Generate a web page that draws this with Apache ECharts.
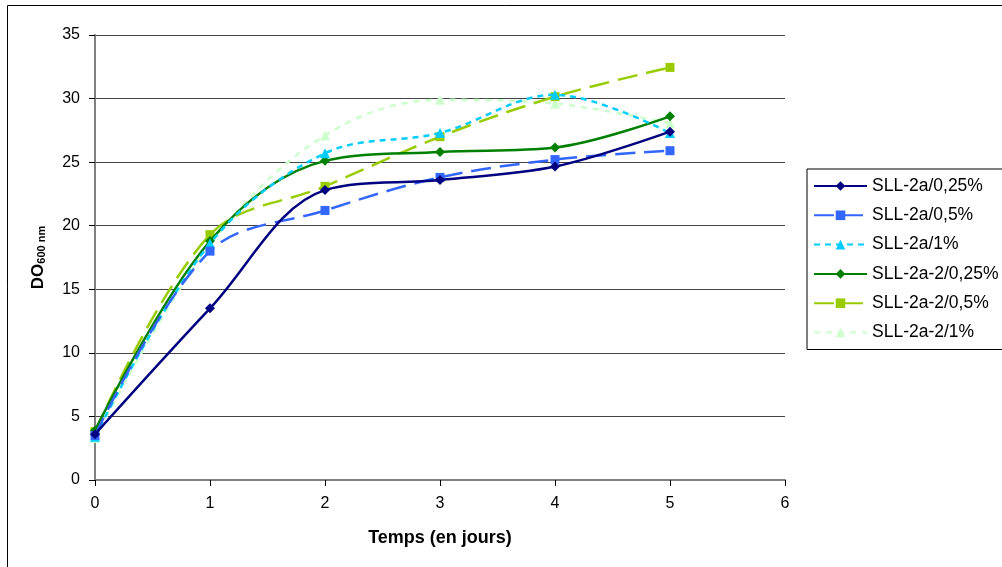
<!DOCTYPE html>
<html>
<head>
<meta charset="utf-8">
<script src="https://cdn.jsdelivr.net/npm/echarts@6/dist/echarts.min.js"></script>
<style>html,body{margin:0;padding:0;background:#fff}#c{width:1002px;height:567px}</style>
</head>
<body>
<div id="c"></div>
<script>
const days = [0, 1, 2, 3, 4, 5];
const xTicks = [0, 1, 2, 3, 4, 5, 6];
const yTicks = [0, 5, 10, 15, 20, 25, 30, 35];
const names = ['SLL-2a/0,25%', 'SLL-2a/0,5%', 'SLL-2a/1%', 'SLL-2a-2/0,25%', 'SLL-2a-2/0,5%', 'SLL-2a-2/1%'];
const s1 = [3.6, 13.5, 22.8, 23.6, 24.65, 27.4];
const s2 = [3.5, 18.0, 21.2, 23.8, 25.2, 25.9];
const s3 = [3.4, 18.6, 25.7, 27.3, 30.3, 27.3];
const s4 = [3.9, 18.8, 25.1, 25.8, 26.15, 28.6];
const s5 = [3.8, 19.3, 23.1, 27.0, 30.15, 32.45];
const s6 = [3.3, 18.5, 27.1, 29.9, 29.6, 28.05];
const values = [s1, s2, s3, s4, s5, s6];

const styles = [
  {color: '#000080', type: 'solid', symbol: 'diamond', size: 10},
  {color: '#3366FF', type: [20, 9], symbol: 'rect', size: 9},
  {color: '#00CCFF', type: [6, 5], symbol: 'triangle', size: 10},
  {color: '#008000', type: 'solid', symbol: 'diamond', size: 10},
  {color: '#99CC00', type: [20, 9], symbol: 'rect', size: 9},
  {color: '#CCFFCC', type: [6, 6], symbol: 'triangle', size: 10}
];

const FONT = 'Liberation Sans, Arial, sans-serif';

const series = names.map((n, i) => ({
  name: n,
  type: 'line',
  smooth: 0.35,
  data: days.map((d, j) => [d, values[i][j]]),
  symbol: styles[i].symbol,
  symbolSize: styles[i].size,
  showAllSymbol: true,
  itemStyle: {color: styles[i].color},
  lineStyle: {color: styles[i].color, width: 2.5, type: styles[i].type},
  z: 10 - i
}));

const chart = echarts.init(document.getElementById('c'), null, {renderer: 'canvas'});
chart.setOption({
  animation: false,
  backgroundColor: '#fff',
  textStyle: {fontFamily: FONT},
  graphic: [
    {type: 'line', shape: {x1: 7.5, y1: 5.5, x2: 1010, y2: 5.5}, style: {stroke: '#000', lineWidth: 1}},
    {type: 'line', shape: {x1: 7.5, y1: 5.5, x2: 7.5, y2: 580}, style: {stroke: '#000', lineWidth: 1}}
  ],
  grid: {left: 95, right: 217, top: 35, bottom: 87, containLabel: false},
  legend: {
    orient: 'vertical',
    left: 807,
    top: 169,
    data: names,
    itemWidth: 53,
    itemHeight: 12,
    itemGap: 11.3,
    padding: [8, 60, 8, 6],
    borderColor: '#000',
    borderWidth: 1,
    textStyle: {fontSize: 17.5, color: '#000', fontFamily: FONT}
  },
  xAxis: {
    type: 'value',
    min: 0, max: 6, interval: 1,
    name: 'Temps (en jours)',
    nameLocation: 'middle',
    nameGap: 49,
    nameTextStyle: {fontSize: 18, fontWeight: 'bold', color: '#000', fontFamily: FONT},
    axisLine: {show: true, onZero: false, lineStyle: {color: '#808080', width: 2}},
    axisTick: {show: true, inside: false, length: 6, lineStyle: {color: '#000', width: 1}},
    axisLabel: {fontSize: 16, color: '#000', margin: 16, fontFamily: FONT, formatter: v => xTicks.includes(v) ? String(v) : ''},
    splitLine: {show: false}
  },
  yAxis: {
    type: 'value',
    min: 0, max: 35, interval: 5,
    name: '{a|DO}{b|600 nm}',
    nameLocation: 'middle',
    nameGap: 48,
    nameRotate: 90,
    nameTextStyle: {
      rich: {
        a: {fontSize: 17, fontWeight: 'bold', color: '#000', fontFamily: FONT},
        b: {fontSize: 11, fontWeight: 'bold', color: '#000', verticalAlign: 'bottom', padding: [7, 0, 0, 0], fontFamily: FONT}
      }
    },
    axisLine: {show: true, lineStyle: {color: '#808080', width: 2}},
    axisTick: {show: true, inside: false, length: 6, lineStyle: {color: '#000', width: 1}},
    axisLabel: {fontSize: 16, color: '#000', margin: 15, fontFamily: FONT, formatter: v => yTicks.includes(v) ? String(v) : ''},
    splitLine: {show: true, lineStyle: {color: '#444', width: 1}}
  },
  series: series
});
</script>
</body>
</html>
